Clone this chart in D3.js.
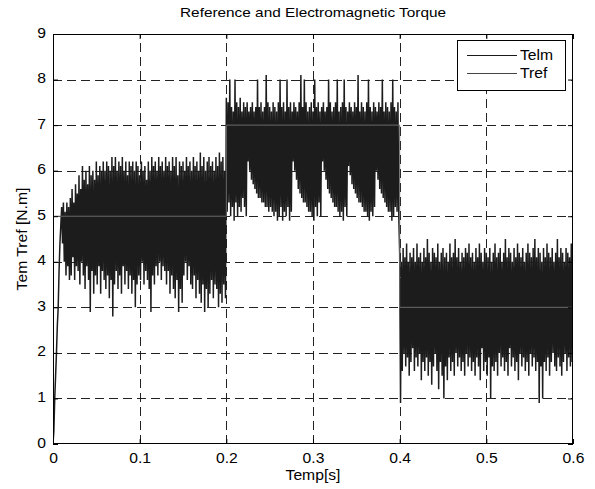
<!DOCTYPE html>
<html><head><meta charset="utf-8">
<script src="https://cdn.jsdelivr.net/npm/d3@7"></script>
<style>
html,body{margin:0;padding:0;background:#fff;}
svg{display:block;font-family:"Liberation Sans",Arial,Helvetica,sans-serif;}
</style></head>
<body>
<svg id="chart" width="595" height="489"></svg>
<script>
// ---- data ----
const xTicks = [0, 0.1, 0.2, 0.3, 0.4, 0.5, 0.6];
const yTicks = [0, 1, 2, 3, 4, 5, 6, 7, 8, 9];
const seriesNames = ["Telm", "Tref"];

// Tref (reference torque) steps
const trefT = [0, 0.2, 0.2, 0.4, 0.4, 0.6];
const trefV = [5, 5, 7, 7, 3, 3];

// Telm start-up ramp
const startT = [0, 0.001, 0.002, 0.003, 0.004, 0.005, 0.006, 0.007, 0.008, 0.009];
const startV = [0, 0.3, 1.0, 1.5, 2.0, 2.6, 3.0, 3.8, 4.4, 4.8];

// Telm samples, 1 ms apart
const dt = 0.001;
const seg1T0 = 0.010;
const seg1V = [
5.2,4.4,5.3,4.0,5.1,3.7,5.3,3.9,5.2,3.6,
5.4,3.7,5.6,4.1,5.3,3.6,5.7,3.9,5.5,3.8,
5.9,3.5,5.6,4.0,6.1,3.7,5.8,3.4,6.0,3.9,
5.7,3.6,6.1,2.9,5.9,3.8,6.0,3.3,5.8,3.7,
6.2,3.5,5.9,3.9,6.1,3.3,6.0,3.8,6.2,3.6,
6.0,3.4,6.2,3.7,6.1,3.2,6.0,3.6,6.3,2.8,
6.1,3.5,6.3,3.8,6.0,3.4,6.2,3.7,6.1,3.3,
6.3,3.9,6.0,3.5,6.2,3.8,5.9,3.4,6.2,3.7,
6.1,3.3,6.2,3.6,6.0,3.0,6.2,3.5,6.1,3.7,
5.9,3.6,6.2,4.0,6.0,3.5,6.1,3.8,5.8,3.6,
6.2,3.4,6.0,2.9,6.3,3.7,6.1,3.5,6.2,3.9,
6.0,3.7,6.3,4.0,6.1,3.6,6.2,3.9,6.0,3.8,
6.3,3.5,6.1,3.8,6.2,3.3,6.0,3.7,6.3,3.4,
6.1,3.2,6.3,3.6,5.9,2.9,6.2,3.4,6.1,3.1,
6.2,3.7,6.0,4.0,6.3,3.6,6.1,3.9,6.2,3.5,
6.0,3.4,6.3,3.7,6.1,3.2,6.2,3.6,6.0,3.3,
6.4,3.1,6.1,3.5,6.3,2.9,6.0,3.4,6.2,3.0,
6.3,3.3,6.1,3.6,6.2,3.2,6.0,3.5,6.3,3.4,
6.1,3.0,6.4,3.3,6.2,3.1,6.3,3.5,6.0,3.2
];
const seg2T0 = 0.200;
const seg2V = [
7.6,5.1,7.5,5.3,8.0,5.0,7.4,5.2,7.3,4.9,
8.0,5.3,7.5,5.0,7.4,5.2,7.6,5.1,7.3,5.4,
7.5,5.2,7.4,5.0,7.5,6.2,7.3,6.0,7.4,5.8,
7.5,5.7,7.3,5.6,7.4,5.5,8.0,5.4,7.4,5.4,
7.5,5.3,7.3,5.3,7.4,5.2,8.1,5.2,7.5,5.1,
7.4,5.2,7.3,5.1,7.5,5.0,7.4,5.1,7.3,4.9,
7.5,5.0,8.0,5.2,7.4,4.9,7.5,5.1,7.3,5.0,
8.0,5.2,7.4,4.9,7.5,5.1,7.3,6.2,7.5,6.0,
7.4,5.8,7.3,5.6,7.5,5.5,8.1,5.4,7.4,5.3,
8.0,5.3,7.5,5.2,7.3,5.1,7.4,5.1,7.5,5.0,
7.3,4.9,8.0,5.2,7.4,5.0,7.5,5.3,7.3,5.0,
7.4,6.2,7.5,6.0,7.3,5.8,7.4,5.6,8.0,5.5,
7.5,5.4,7.3,5.3,7.4,5.2,7.5,5.2,8.0,5.1,
7.3,5.0,7.4,5.1,7.5,4.9,8.0,5.2,7.4,5.0,
7.3,6.1,7.5,5.9,7.4,5.7,7.3,5.6,7.5,5.5,
7.4,5.4,8.1,5.3,7.3,5.3,7.5,5.2,7.4,5.1,
7.3,5.1,7.5,5.0,8.0,4.9,7.4,5.1,7.3,5.0,
7.5,5.2,7.4,6.0,7.3,5.8,7.5,5.6,7.4,5.5,
8.0,5.4,7.3,5.3,7.5,5.2,7.4,5.1,7.3,5.1,
7.5,4.9,8.0,5.0,7.4,5.2,7.3,5.1,7.5,5.0
];
const seg3T0 = 0.400;
const seg3V = [
4.2,0.9,4.0,1.6,4.3,2.0,4.1,1.7,4.4,1.9,
4.0,1.5,4.2,1.8,4.1,2.1,4.3,1.6,4.0,1.9,
4.4,1.7,4.1,2.0,4.2,1.4,4.0,1.8,4.3,1.6,
4.1,1.9,4.5,1.5,4.2,1.8,4.0,1.3,4.3,1.7,
4.2,2.0,4.1,1.6,4.4,1.2,4.0,1.8,4.2,1.5,
4.3,1.0,4.1,1.7,4.2,1.4,4.0,1.9,4.4,1.6,
4.1,1.8,4.2,1.5,4.5,2.0,4.1,1.7,4.3,1.9,
4.0,1.6,4.2,1.8,4.1,1.5,4.3,2.0,4.2,1.7,
4.4,1.9,4.1,1.6,4.2,1.8,4.0,1.5,4.3,1.9,
4.1,1.7,4.4,1.4,4.2,2.1,4.0,1.6,4.3,1.8,
4.2,1.5,4.1,1.9,4.3,1.0,4.0,1.7,4.2,1.6,
4.4,1.8,4.1,1.5,4.2,2.0,4.3,1.7,4.0,1.9,
4.2,1.6,4.5,1.8,4.1,1.5,4.3,2.1,4.2,1.7,
4.0,1.9,4.3,1.6,4.1,1.8,4.4,1.4,4.2,2.0,
4.1,1.7,4.3,1.9,4.0,1.6,4.2,1.8,4.4,1.5,
4.2,2.0,4.1,1.7,4.3,1.9,4.5,1.6,4.1,1.8,
4.3,0.9,4.2,1.7,4.0,1.0,4.3,1.8,4.1,1.6,
4.4,1.9,4.2,1.5,4.1,1.8,4.3,2.0,4.0,1.7,
4.2,1.6,4.5,1.9,4.1,1.7,4.3,1.5,4.2,1.8,
4.0,2.0,4.3,1.6,4.2,1.9,4.1,1.7,4.4,1.8,
4.2
];

// ---- build point lists ----
const telm = [];
startT.forEach((t, i) => telm.push([t, startV[i]]));
[[seg1T0, seg1V], [seg2T0, seg2V], [seg3T0, seg3V]].forEach(([t0, vals]) => {
  vals.forEach((v, i) => telm.push([t0 + i * dt, v]));
});
const tref = trefT.map((t, i) => [t, trefV[i]]);

// ---- layout ----
const svg = d3.select("#chart");
const L = 53, R = 573, T = 34, B = 444;
const x = d3.scaleLinear().domain([0, 0.6]).range([L, R]);
const y = d3.scaleLinear().domain([0, 9]).range([B, T]);
const FONT = '"Liberation Sans",Arial,Helvetica,sans-serif';
const WIDEN = 1.12; // text in the source is drawn slightly wide
function widen(sel, target) {
  sel.each(function () {
    const w = this.getComputedTextLength();
    d3.select(this).attr("textLength", target || w * WIDEN)
      .attr("lengthAdjust", "spacingAndGlyphs");
  });
}

// grid
const grid = svg.append("g").attr("stroke", "#222").attr("stroke-width", 1)
  .attr("stroke-dasharray", "9,5").attr("shape-rendering", "crispEdges");
xTicks.slice(1, -1).forEach(t => grid.append("line")
  .attr("x1", Math.round(x(t)) + 0.5).attr("x2", Math.round(x(t)) + 0.5)
  .attr("y1", B).attr("y2", T));
yTicks.slice(1, -1).forEach(t => grid.append("line")
  .attr("y1", Math.round(y(t)) + 0.5).attr("y2", Math.round(y(t)) + 0.5)
  .attr("x1", L).attr("x2", R));

// data lines
svg.append("clipPath").attr("id", "clip").append("rect")
  .attr("x", L).attr("y", T).attr("width", R - L).attr("height", B - T);
const line = d3.line().x(d => x(d[0])).y(d => y(d[1]));
const plot = svg.append("g").attr("clip-path", "url(#clip)");
plot.append("path").datum(telm).attr("d", line)
  .attr("fill", "none").attr("stroke", "#1c1c1c").attr("stroke-width", 1.5)
  .attr("stroke-linejoin", "bevel");
plot.append("path").datum(tref).attr("d", line)
  .attr("fill", "none").attr("stroke", "#6a6a6a").attr("stroke-width", 1);

// axes (MATLAB-like box with inward ticks)
const fmtX = d => d3.format("~g")(d);
const xAxisB = d3.axisBottom(x).tickValues(xTicks).tickSize(-5).tickPadding(9).tickFormat(fmtX);
const yAxisL = d3.axisLeft(y).tickValues(yTicks).tickSize(-5).tickPadding(7).tickFormat(d3.format("d"));
svg.append("g").attr("transform", `translate(0,${B})`).call(xAxisB);
const gy = svg.append("g").attr("transform", `translate(${L},0)`).call(yAxisL);
gy.selectAll(".tick text").attr("dy", "0.22em");
svg.append("g").attr("transform", `translate(0,${T})`)
  .call(d3.axisTop(x).tickValues(xTicks).tickSize(-5).tickFormat(""));
svg.append("g").attr("transform", `translate(${R},0)`)
  .call(d3.axisRight(y).tickValues(yTicks).tickSize(-5).tickFormat(""));
svg.selectAll(".domain").remove();
svg.selectAll(".tick line").attr("stroke", "#000");
svg.selectAll(".tick text").attr("font-size", 14).attr("fill", "#000")
  .attr("font-family", FONT).call(widen);
svg.append("rect").attr("x", L + 0.5).attr("y", T + 0.5)
  .attr("width", R - L - 1).attr("height", B - T - 1)
  .attr("fill", "none").attr("stroke", "#000").attr("stroke-width", 1);

// title and labels
svg.append("text").attr("x", (L + R) / 2).attr("y", 17).attr("text-anchor", "middle")
  .attr("font-size", 13).text("Reference and Electromagnetic Torque").call(widen, 266);
svg.append("text").attr("x", (L + R) / 2).attr("y", 480).attr("text-anchor", "middle")
  .attr("font-size", 14).text("Temp[s]").call(widen);
svg.append("text").attr("transform", `translate(27,${(T + B) / 2}) rotate(-90)`)
  .attr("text-anchor", "middle").attr("font-size", 14).text("Tem Tref [N.m]").call(widen);

// legend
const lg = svg.append("g");
lg.append("rect").attr("x", 457.5).attr("y", 40.5).attr("width", 108).attr("height", 50)
  .attr("fill", "#fff").attr("stroke", "#000");
seriesNames.forEach((name, i) => {
  const yy = 55 + i * 18;
  lg.append("line").attr("x1", 467).attr("x2", 517).attr("y1", yy + 0.5).attr("y2", yy + 0.5)
    .attr("stroke", i === 0 ? "#1a1a1a" : "#444");
  lg.append("text").attr("x", 520).attr("y", yy + 5).attr("font-size", 14).text(name).call(widen);
});
</script>
</body></html>
